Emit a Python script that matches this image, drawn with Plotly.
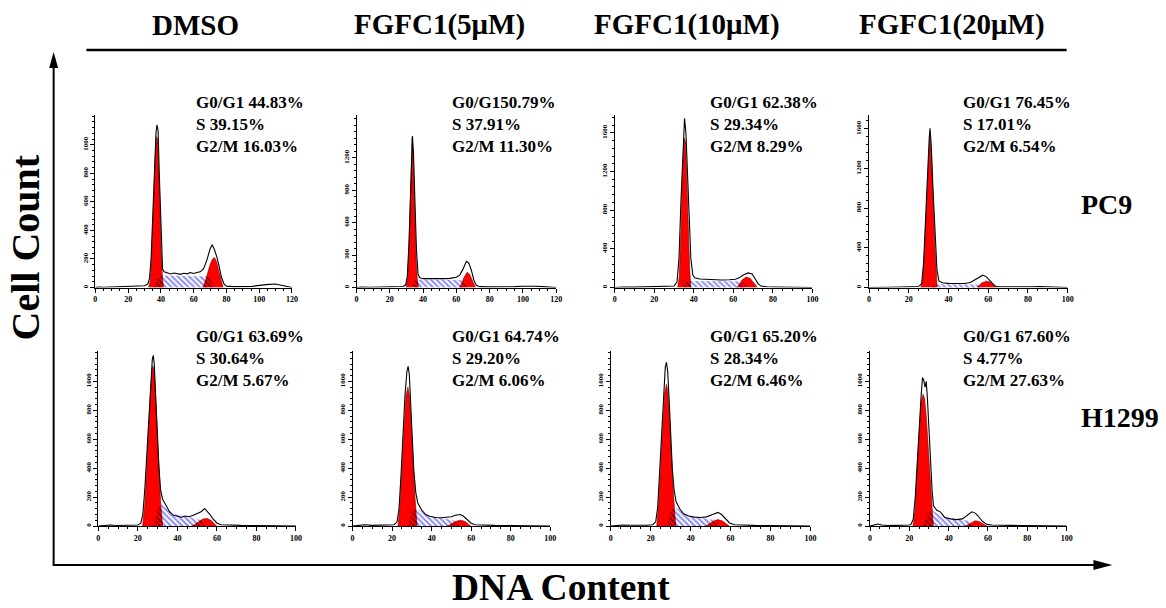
import numpy as np
import plotly.graph_objects as go

# ---------------- data ----------------
CONDITIONS = ["DMSO", "FGFC1(5μM)", "FGFC1(10μM)", "FGFC1(20μM)"]
CELL_LINES = ["PC9", "H1299"]

STATS_G1 = ["G0/G1 44.83%", "G0/G150.79%", "G0/G1 62.38%", "G0/G1 76.45%",
            "G0/G1 63.69%", "G0/G1 64.74%", "G0/G1 65.20%", "G0/G1 67.60%"]
STATS_S = ["S 39.15%", "S 37.91%", "S 29.34%", "S 17.01%",
           "S 30.64%", "S 29.20%", "S 28.34%", "S 4.77%"]
STATS_G2 = ["G2/M 16.03%", "G2/M 11.30%", "G2/M 8.29%", "G2/M 6.54%",
            "G2/M 5.67%", "G2/M 6.06%", "G2/M 6.46%", "G2/M 27.63%"]

X_MAX = [120, 120, 100, 100, 100, 100, 100, 100]
Y_MAX = [1210, 1597, 1786, 1741, 1207, 1207, 1207, 1207]
Y_TICK_STEP = [200, 300, 400, 400, 200, 200, 200, 200]
Y_TICK_TOP = [1000, 1200, 1600, 1600, 1000, 1000, 1000, 1000]

# total histogram outline (DNA channel, count)
OUTLINE_X = [
    [0, 2, 5, 10, 15, 20, 25, 28, 30, 32, 33, 34, 35, 36, 37, 37.6, 38.3, 39, 40, 40.6, 41, 42, 44, 46, 48, 50, 52, 54, 56, 58, 60, 62, 64, 66, 68, 70, 71.3, 72.5, 74, 75.5, 77, 78.5, 80, 84, 90, 96, 100, 103, 106, 110, 113, 116, 118, 120],
    [0, 3, 8, 14, 20, 25, 28, 29.5, 30.5, 31.5, 32.5, 33.2, 33.6, 34.2, 35, 36, 37, 38, 40, 44, 48, 52, 56, 60, 62, 64, 66, 67.5, 69, 70.5, 72, 74, 80, 88, 95, 100, 104, 108, 112, 116, 120],
    [0, 4, 10, 16, 22, 27, 30, 31.5, 32.5, 33.5, 34.5, 35.3, 36, 36.8, 37.6, 38.5, 39.5, 40.5, 43, 46, 50, 54, 58, 61, 63, 65, 67.5, 69.5, 71, 72.5, 74, 77, 82, 88, 94, 100],
    [0, 5, 10, 16, 22, 25, 26.5, 27.5, 28.5, 29.5, 30.3, 30.7, 31.3, 32.2, 33.2, 34.2, 35.2, 37, 40, 44, 48, 51, 53, 55, 57.3, 59, 60.5, 62, 63.5, 65, 70, 76, 82, 86, 90, 95, 100],
    [0, 3, 6, 9, 13, 17, 20, 21.5, 22.5, 23.5, 24.5, 25.5, 26.5, 27.3, 27.8, 28.3, 29, 29.8, 30.6, 31.5, 32.5, 34, 36, 38, 40, 42, 44, 46, 48, 50, 52, 53.8, 55, 56.5, 58, 60, 62, 66, 72, 80, 88, 94, 100],
    [0, 3, 6, 10, 14, 18, 21, 22.5, 23.5, 24.5, 25.5, 26.5, 27.5, 28.1, 28.7, 29.4, 30.2, 31, 32, 33, 35, 37, 39, 42, 45, 48, 50, 52, 54.5, 56, 58, 60, 62, 66, 72, 80, 88, 100],
    [0, 3, 6, 10, 14, 18, 21, 22.5, 23.5, 24.5, 25.5, 26.5, 27.3, 27.9, 28.5, 29.2, 30, 30.8, 31.7, 32.7, 34.5, 36.5, 39, 42, 45, 48, 50, 52, 53.7, 55.5, 57.5, 59.5, 62, 66, 72, 80, 90, 100],
    [0, 2, 4, 6, 9, 13, 17, 20, 21, 22, 23, 24, 25, 26, 26.7, 27.3, 28, 28.6, 29.2, 30, 30.8, 31.6, 32.3, 34, 35.9, 38, 41, 44, 47, 49, 51.8, 53.5, 55, 57, 59.4, 62, 66, 72, 80, 90, 100],
]
OUTLINE_Y = [
    [0, 3, 2, 4, 3, 5, 6, 8, 12, 25, 60, 200, 500, 850, 1080, 1140, 1100, 800, 400, 200, 130, 110, 100, 95, 102, 98, 92, 100, 96, 105, 98, 105, 110, 130, 190, 270, 300, 270, 220, 150, 70, 25, 10, 6, 5, 8, 15, 20, 22, 25, 18, 6, 2, 0],
    [0, 4, 3, 5, 4, 6, 10, 25, 100, 400, 900, 1250, 1400, 1250, 800, 350, 120, 90, 82, 80, 78, 82, 85, 95, 115, 170, 243, 225, 160, 70, 20, 8, 6, 5, 8, 12, 14, 12, 8, 4, 0],
    [0, 5, 4, 6, 5, 8, 15, 60, 300, 900, 1450, 1751, 1600, 1200, 700, 300, 130, 100, 88, 84, 80, 78, 80, 85, 100, 130, 151, 140, 90, 40, 15, 8, 6, 5, 4, 0],
    [0, 4, 3, 5, 6, 10, 40, 250, 700, 1200, 1500, 1606, 1450, 1000, 500, 180, 64, 48, 42, 38, 40, 50, 75, 100, 124, 110, 80, 40, 15, 8, 6, 5, 8, 10, 6, 4, 0],
    [0, 5, 8, 4, 6, 5, 8, 20, 80, 250, 500, 780, 1000, 1150, 1180, 1120, 900, 650, 420, 250, 186, 150, 100, 75, 68, 62, 70, 65, 75, 90, 100, 122, 105, 80, 50, 22, 10, 6, 5, 4, 3, 3, 0],
    [0, 6, 10, 5, 6, 6, 10, 30, 120, 350, 650, 900, 1070, 1104, 1050, 850, 600, 380, 230, 160, 110, 80, 68, 60, 58, 60, 65, 75, 80, 70, 45, 20, 10, 6, 5, 4, 3, 0],
    [0, 5, 8, 6, 5, 6, 10, 30, 130, 380, 700, 950, 1100, 1131, 1070, 880, 620, 400, 250, 170, 120, 85, 70, 62, 60, 64, 75, 85, 95, 80, 50, 22, 10, 6, 5, 4, 3, 0],
    [0, 5, 15, 8, 4, 5, 5, 8, 15, 50, 200, 450, 700, 900, 1026, 1010, 960, 1000, 880, 650, 420, 240, 140, 110, 97, 60, 50, 45, 50, 70, 99, 90, 70, 35, 12, 8, 5, 5, 4, 3, 0],
]

# G0/G1 fitted peak (red)
G1_X = [
    [32.5, 33.5, 34.5, 35.5, 36.5, 37.3, 38, 38.8, 39.5, 40.2, 41, 41.5],
    [29.8, 30.8, 31.8, 32.7, 33.4, 34, 34.8, 35.7, 36.5, 37.2],
    [31.8, 32.6, 33.5, 34.3, 35.2, 35.8, 36.5, 37.2, 37.9, 38.5],
    [26, 27, 28, 29, 30, 30.6, 31.3, 32.2, 33.2, 34.3],
    [22.4, 23.5, 24.5, 25.5, 26.5, 27.5, 28.2, 29, 29.8, 30.6, 31.5, 32.5],
    [23, 24, 25, 26, 27, 28, 28.8, 29.6, 30.5, 31.5, 32.6],
    [23, 24, 25, 26, 27, 27.9, 28.7, 29.5, 30.4, 31.4, 32.5],
    [21.9, 23, 24, 25, 26, 27, 27.8, 28.6, 29.5, 30.5, 31.4, 32.2],
]
G1_Y = [
    [0, 50, 250, 600, 900, 1058, 1040, 800, 500, 250, 60, 0],
    [0, 100, 500, 1000, 1381, 1200, 700, 300, 80, 0],
    [0, 100, 600, 1200, 1545, 1500, 1100, 600, 200, 0],
    [0, 60, 400, 900, 1350, 1539, 1380, 900, 400, 0],
    [0, 150, 400, 700, 950, 1106, 1080, 880, 620, 380, 170, 0],
    [0, 150, 400, 700, 900, 960, 900, 700, 450, 220, 0],
    [0, 160, 420, 720, 920, 980, 920, 720, 460, 220, 0],
    [0, 120, 400, 680, 860, 911, 880, 760, 560, 320, 120, 0],
]

# G2/M fitted peak (red)
G2_X = [
    [65.5, 67, 68.5, 70, 71.5, 72.7, 74, 75.5, 76.8, 78],
    [61.8, 63, 64.5, 66.5, 68, 69.5, 70.8, 71.5],
    [61.8, 63, 64.5, 66.5, 68.5, 70.5, 72.2],
    [54.3, 55.5, 57, 59.3, 61, 62.8, 64.3],
    [47.5, 49, 51, 53, 55, 57, 58.8, 60],
    [48, 50, 52, 54.7, 57, 58.8, 60],
    [47.5, 49.5, 51.5, 53.7, 56, 58, 59.5],
    [48.5, 50, 51.8, 53.5, 55.5, 57.5, 59.4],
]
G2_Y = [
    [0, 40, 100, 160, 200, 210, 180, 120, 50, 0],
    [0, 30, 90, 141, 120, 70, 20, 0],
    [0, 30, 80, 110, 95, 45, 0],
    [0, 25, 50, 64, 55, 25, 0],
    [0, 15, 35, 50, 53, 40, 15, 0],
    [0, 15, 32, 41, 32, 12, 0],
    [0, 15, 35, 45, 35, 14, 0],
    [0, 12, 28, 37, 32, 15, 0],
]

# S-phase fitted area (hatched)
S_X = [
    [36, 37, 39, 42, 50, 58, 64, 68, 71, 72.5],
    [33, 34, 36, 40, 50, 58, 62, 64, 66.5],
    [34, 36, 38, 42, 50, 58, 62, 65, 67],
    [30, 32, 35, 40, 46, 50, 54, 56, 58],
    [28, 30, 32, 34, 37, 40, 43, 46, 49, 52, 54],
    [28, 30, 33, 36, 40, 44, 48, 51, 54],
    [28, 30, 33, 36, 40, 44, 48, 51, 53.5],
    [27, 29, 32, 35, 38, 42, 46, 50, 52],
]
S_Y = [
    [0, 50, 78, 82, 82, 82, 82, 78, 50, 0],
    [0, 50, 70, 74, 74, 74, 70, 55, 0],
    [0, 60, 68, 68, 66, 66, 66, 50, 0],
    [0, 25, 32, 32, 32, 32, 30, 20, 0],
    [0, 120, 150, 125, 95, 78, 72, 62, 52, 40, 0],
    [0, 110, 120, 90, 65, 55, 50, 42, 0],
    [0, 115, 125, 92, 70, 60, 52, 44, 0],
    [0, 80, 106, 80, 62, 55, 45, 37, 0],
]

# peak position markers
G1_MEAN = [37.6, 33.6, 35.5, 30.7, 28.0, 28.0, 27.9, 27.0]
G2_MEAN = [71.5, 66.5, 67.5, 57.5, 54.0, 54.5, 53.7, 53.0]

# ---------------- layout helpers ----------------
W, H = 1166, 608
SERIF = "Liberation Serif"


def fx(p):
    return p / W


def fy(p):
    return 1 - p / H


X_DOM_PX = [(94, 292), (357, 558), (617, 816), (873, 1073),
            (97, 296), (353, 552), (613, 814), (874, 1072)]
Y_DOM_PX = [(288, 115)] * 4 + [(527, 352)] * 4
STAT_LEFT_PX = [193, 451, 711, 966]
STAT_ROWS_PX = [(103, 125, 147), (337, 359, 381)]

fig = go.Figure()
layout_axes = {}
annotations = []

for i in range(8):
    n = "" if i == 0 else str(i + 1)
    xa, ya = "x" + n, "y" + n
    xmax, ymax = X_MAX[i], Y_MAX[i]

    # S phase with blue hatch
    fig.add_trace(go.Scatter(
        x=S_X[i], y=S_Y[i], xaxis=xa, yaxis=ya, mode="lines",
        line=dict(width=0, color="#1818e8"), fill="tozeroy",
        fillcolor="rgba(0,0,0,0)",
        fillpattern=dict(shape="\\", fgcolor="#1818e8", bgcolor="white",
                         size=4, solidity=0.5),
        hoverinfo="skip", showlegend=False))
    # G1 and G2 red peaks
    for px_, py_ in ((G1_X[i], G1_Y[i]), (G2_X[i], G2_Y[i])):
        fig.add_trace(go.Scatter(
            x=px_, y=py_, xaxis=xa, yaxis=ya, mode="lines",
            line=dict(width=0.6, color="#7a0000"), fill="tozeroy",
            fillcolor="#ff0000", hoverinfo="skip", showlegend=False))
    # black hatch where S overlaps the red peaks
    xs = np.linspace(S_X[i][0], S_X[i][-1], 300)
    s_i = np.interp(xs, S_X[i], S_Y[i])
    r_i = np.maximum(np.interp(xs, G1_X[i], G1_Y[i], left=0, right=0),
                     np.interp(xs, G2_X[i], G2_Y[i], left=0, right=0))
    ov = np.minimum(s_i, r_i)
    fig.add_trace(go.Scatter(
        x=xs, y=ov, xaxis=xa, yaxis=ya, mode="lines",
        line=dict(width=0, color="black"), fill="tozeroy",
        fillcolor="rgba(0,0,0,0)",
        fillpattern=dict(shape="\\", fgcolor="black",
                         bgcolor="rgba(0,0,0,0)", size=4, solidity=0.45),
        hoverinfo="skip", showlegend=False))
    # total histogram outline
    fig.add_trace(go.Scatter(
        x=OUTLINE_X[i], y=OUTLINE_Y[i], xaxis=xa, yaxis=ya, mode="lines",
        line=dict(width=1.1, color="black"), hoverinfo="skip", showlegend=False))
    # mean markers
    h_px = Y_DOM_PX[i][0] - Y_DOM_PX[i][1]
    fig.add_trace(go.Scatter(
        x=[G1_MEAN[i], G2_MEAN[i]], y=[-4 * ymax / h_px] * 2,
        xaxis=xa, yaxis=ya, mode="markers", cliponaxis=False,
        marker=dict(symbol="triangle-up", size=6, color="black"),
        hoverinfo="skip", showlegend=False))

    tickfont = dict(family=SERIF, size=8, color="black", weight="bold")
    ytickfont = dict(family=SERIF, size=7, color="black", weight="bold")
    layout_axes["xaxis" + n] = dict(
        domain=[fx(X_DOM_PX[i][0]), fx(X_DOM_PX[i][1])], anchor=ya,
        range=[0, xmax], showline=True, linecolor="black", linewidth=1,
        showgrid=False, zeroline=False, ticks="outside", ticklen=4,
        tickwidth=1, tickcolor="black", tickmode="array",
        tickvals=list(range(0, xmax + 1, 20)), tickfont=tickfont,
        minor=dict(ticks="outside", ticklen=2, tickwidth=1,
                   tickcolor="black", tickmode="linear", tick0=0, dtick=5,
                   showgrid=False))
    layout_axes["yaxis" + n] = dict(
        domain=[fy(Y_DOM_PX[i][0]), fy(Y_DOM_PX[i][1])], anchor=xa,
        range=[0, ymax], showline=True, linecolor="black", linewidth=1,
        showgrid=False, zeroline=False, ticks="outside", ticklen=4,
        tickwidth=1, tickcolor="black", tickmode="array",
        tickvals=list(range(0, Y_TICK_TOP[i] + 1, Y_TICK_STEP[i])),
        tickangle=-90, tickfont=ytickfont,
        minor=dict(ticks="outside", ticklen=2, tickwidth=1,
                   tickcolor="black", tickmode="linear", tick0=0,
                   dtick=Y_TICK_STEP[i] / 5, showgrid=False))

    # stats text
    row, col = divmod(i, 4)
    for txt, ypx in zip((STATS_G1[i], STATS_S[i], STATS_G2[i]), STAT_ROWS_PX[row]):
        annotations.append(dict(
            text="<b>" + txt + "</b>", x=fx(STAT_LEFT_PX[col]), y=fy(ypx),
            xref="paper", yref="paper", xanchor="left", yanchor="middle",
            showarrow=False, font=dict(family=SERIF, size=17, color="black")))

# column titles
for name, cx in zip(CONDITIONS, [195, 441, 690, 957]):
    annotations.append(dict(
        text="<b>" + name + "</b>", x=fx(cx), y=fy(25), xref="paper",
        yref="paper", xanchor="center", yanchor="middle", showarrow=False,
        font=dict(family=SERIF, size=29, color="black")))
# row labels
for name, (cx, cy) in zip(CELL_LINES, [(1112, 205), (1126, 418)]):
    annotations.append(dict(
        text="<b>" + name + "</b>", x=fx(cx), y=fy(cy), xref="paper",
        yref="paper", xanchor="center", yanchor="middle", showarrow=False,
        font=dict(family=SERIF, size=28, color="black")))
# overall axis titles
annotations.append(dict(
    text="<b>Cell Count</b>", x=fx(24), y=fy(248), xref="paper", yref="paper",
    xanchor="center", yanchor="middle", showarrow=False, textangle=-90,
    font=dict(family=SERIF, size=40, color="black")))
annotations.append(dict(
    text="<b>DNA Content</b>", x=fx(563), y=fy(588), xref="paper",
    yref="paper", xanchor="center", yanchor="middle", showarrow=False,
    font=dict(family=SERIF, size=37.5, color="black")))

shapes = [
    # header rule
    dict(type="line", xref="paper", yref="paper", x0=fx(85), x1=fx(1072),
         y0=fy(50), y1=fy(50), line=dict(color="black", width=2.5)),
    # vertical big axis
    dict(type="line", xref="paper", yref="paper", x0=fx(52), x1=fx(52),
         y0=fy(566), y1=fy(64), line=dict(color="black", width=2)),
    dict(type="path", xref="paper", yref="paper",
         path="M {} {} L {} {} L {} {} Z".format(fx(52), fy(52), fx(47.5), fy(68),
                                                 fx(56.5), fy(68)),
         fillcolor="black", line=dict(color="black", width=0)),
    # horizontal big axis
    dict(type="line", xref="paper", yref="paper", x0=fx(51), x1=fx(1102),
         y0=fy(566), y1=fy(566), line=dict(color="black", width=2)),
    dict(type="path", xref="paper", yref="paper",
         path="M {} {} L {} {} L {} {} Z".format(fx(1118), fy(566), fx(1099), fy(561),
                                                 fx(1099), fy(571)),
         fillcolor="black", line=dict(color="black", width=0)),
]

fig.update_layout(
    width=W, height=H, margin=dict(l=0, r=0, t=0, b=0),
    paper_bgcolor="white", plot_bgcolor="white",
    annotations=annotations, shapes=shapes, showlegend=False,
    **layout_axes)

fig.write_html("out.html",
               config={"displayModeBar": False, "staticPlot": True},
               post_script="document.body.style.margin='0';"
                           "document.body.style.padding='0';"
                           "document.body.style.overflow='hidden';")
